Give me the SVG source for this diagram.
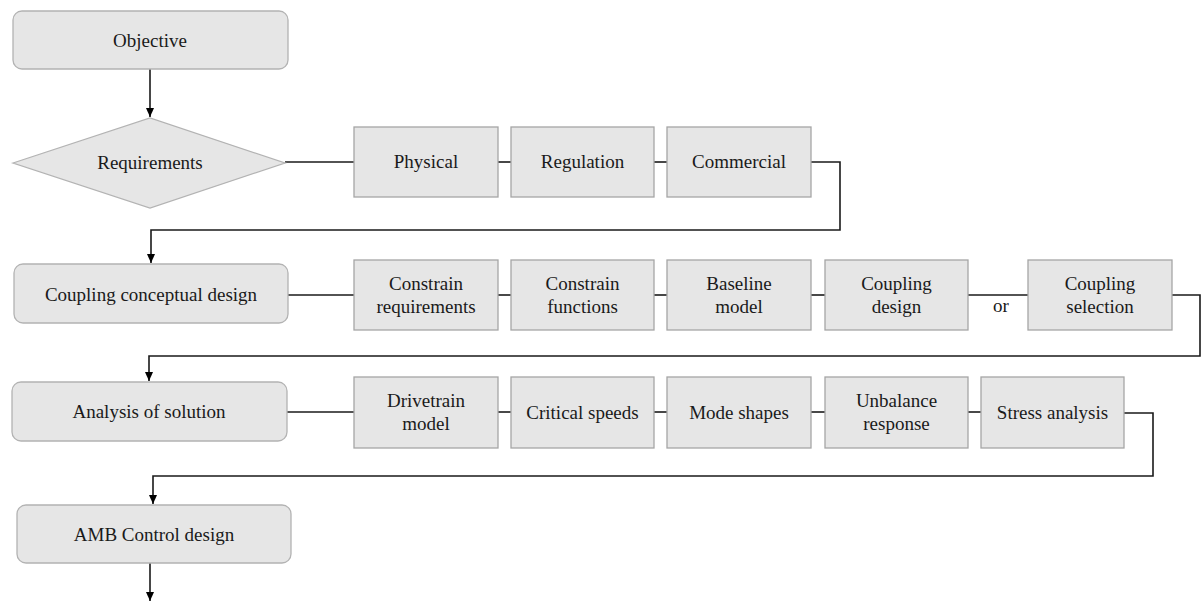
<svg xmlns="http://www.w3.org/2000/svg" width="1202" height="601" viewBox="0 0 1202 601">
<style>
.rn{fill:#e6e6e6;stroke:#b3b3b3;stroke-width:1.3}
.bx{fill:#e6e6e6;stroke:#a6a6a6;stroke-width:1.3}
.c{fill:none;stroke:#1a1a1a;stroke-width:1.6}
</style>
<defs>
<marker id="ah" markerWidth="10" markerHeight="10" refX="9" refY="5" orient="auto" markerUnits="userSpaceOnUse">
<path d="M0,1 L9,5 L0,9 Z" fill="#000"/>
</marker>
</defs>
<rect width="1202" height="601" fill="#fff"/>
<g id="connectors">
<path class="c" d="M150,69 V117" marker-end="url(#ah)"/>
<path class="c" d="M285,162 H354"/>
<path class="c" d="M498,162 H511"/>
<path class="c" d="M654,162 H667"/>
<path class="c" d="M811,162 H840 V230 H151 V263" marker-end="url(#ah)"/>
<path class="c" d="M288,295 H354"/>
<path class="c" d="M498,295 H511"/>
<path class="c" d="M654,295 H667"/>
<path class="c" d="M811,295 H825"/>
<path class="c" d="M968,295 H1028"/>
<path class="c" d="M1172,295 H1200 V356 H149 V381" marker-end="url(#ah)"/>
<path class="c" d="M287,412 H354"/>
<path class="c" d="M498,412 H511"/>
<path class="c" d="M654,412 H667"/>
<path class="c" d="M811,412 H825"/>
<path class="c" d="M968,412 H981"/>
<path class="c" d="M1124,413 H1153 V476 H153 V504" marker-end="url(#ah)"/>
<path class="c" d="M150,563 V601" marker-end="url(#ah)"/>
</g>
<g font-family="'Times New Roman', 'Liberation Serif', 'DejaVu Serif', serif" font-size="19" fill="#1a1a1a" text-anchor="middle">
<text x="1001" y="312">or</text>
<g id="objective"><rect class="rn" x="13" y="11" width="275" height="58" rx="9"/><text x="150" y="47">Objective</text></g>
<g id="requirements"><polygon class="rn" points="13,163 150,118 285,163 150,208"/><text x="150" y="169">Requirements</text></g>
<g id="physical"><rect class="bx" x="354" y="127" width="144" height="70"/><text x="426" y="168">Physical</text></g>
<g id="regulation"><rect class="bx" x="511" y="127" width="143" height="70"/><text x="582.5" y="168">Regulation</text></g>
<g id="commercial"><rect class="bx" x="667" y="127" width="144" height="70"/><text x="739" y="168">Commercial</text></g>
<g id="coupling-conceptual"><rect class="rn" x="14" y="264" width="274" height="59" rx="9"/><text x="151" y="301">Coupling conceptual design</text></g>
<g id="constrain-req"><rect class="bx" x="354" y="260" width="144" height="70"/><text x="426" y="290">Constrain</text><text x="426" y="313">requirements</text></g>
<g id="constrain-func"><rect class="bx" x="511" y="260" width="143" height="70"/><text x="582.5" y="290">Constrain</text><text x="582.5" y="313">functions</text></g>
<g id="baseline"><rect class="bx" x="667" y="260" width="144" height="70"/><text x="739" y="290">Baseline</text><text x="739" y="313">model</text></g>
<g id="coupling-design"><rect class="bx" x="825" y="260" width="143" height="70"/><text x="896.5" y="290">Coupling</text><text x="896.5" y="313">design</text></g>
<g id="coupling-selection"><rect class="bx" x="1028" y="260" width="144" height="70"/><text x="1100" y="290">Coupling</text><text x="1100" y="313">selection</text></g>
<g id="analysis"><rect class="rn" x="12" y="382" width="275" height="59" rx="9"/><text x="149" y="418">Analysis of solution</text></g>
<g id="drivetrain"><rect class="bx" x="354" y="377" width="144" height="71"/><text x="426" y="407">Drivetrain</text><text x="426" y="430">model</text></g>
<g id="critical"><rect class="bx" x="511" y="377" width="143" height="71"/><text x="582.5" y="419">Critical speeds</text></g>
<g id="mode"><rect class="bx" x="667" y="377" width="144" height="71"/><text x="739" y="419">Mode shapes</text></g>
<g id="unbalance"><rect class="bx" x="825" y="377" width="143" height="71"/><text x="896.5" y="407">Unbalance</text><text x="896.5" y="430">response</text></g>
<g id="stress"><rect class="bx" x="981" y="377" width="143" height="71"/><text x="1052.5" y="419">Stress analysis</text></g>
<g id="amb"><rect class="rn" x="17" y="505" width="274" height="58" rx="9"/><text x="154" y="541">AMB Control design</text></g>
</g>
</svg>
